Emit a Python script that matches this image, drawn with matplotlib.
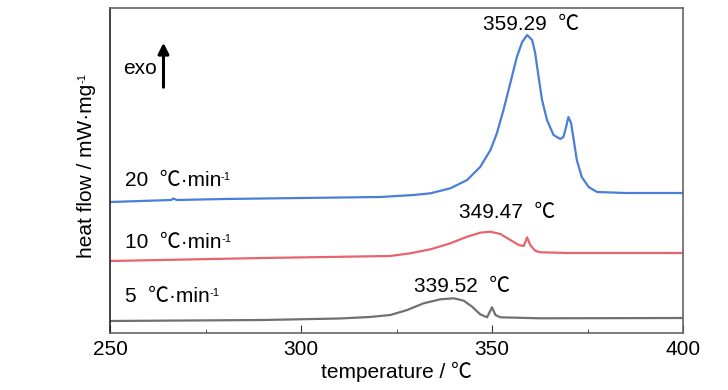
import matplotlib
matplotlib.use("Agg")
import matplotlib.pyplot as plt

plt.rcParams['font.family'] = ['Liberation Sans', 'Noto Sans CJK SC', 'DejaVu Sans']

# DSC curves, temperature (C) vs heat flow (arbitrary units, stacked)
t20 = [250, 266, 266.6, 267.5, 280, 300, 320.8, 329.5, 333.9, 339.1, 343.5, 346.9, 349.6,
       351.3, 353.0, 354.8, 356.5, 357.9, 359.2, 360.5, 361.3, 362.2, 363.1, 364.4, 366.1,
       367.9, 368.7, 369.4, 370.0, 370.7, 371.4, 372.2, 373.5, 375.3, 377.5, 385, 400]
q20 = [131, 133, 134.5, 133, 134, 135, 136, 138, 139.7, 144.7, 153, 166, 183,
       200, 223, 250, 276, 291, 298, 293, 280, 256, 233, 213, 198,
       194, 196, 206, 216, 210, 193, 173, 156, 146, 141, 140, 140]

t10 = [250, 290, 315, 323.4, 328.6, 333.9, 339.1, 343.5, 346.9, 349.6, 352.2, 354.8, 357.0,
       358.3, 359.2, 360.0, 361.3, 362.6, 370, 400]
q10 = [72, 75, 76.5, 77, 79.7, 83.7, 89.7, 96.3, 100.3, 101.3, 99, 93, 88,
       87, 95.7, 88, 82.3, 80.7, 80, 80]

t5 = [250, 290, 310, 318, 323.4, 327.8, 332.1, 336.5, 340.0, 342.6, 344.8, 346.9, 348.7,
      350.0, 350.9, 352.2, 362.6, 400]
q5 = [12, 13, 14.5, 16, 18, 23, 29.7, 33.7, 34.7, 32.3, 26.3, 18.7, 15.7,
      25.7, 18, 15.7, 14.7, 15]

rate_labels = ['20  ℃·min', '10  ℃·min', '5  ℃·min']
rate_y = [152, 90, 36]
peak_labels = ['359.29  ℃', '349.47  ℃', '339.52  ℃']
peak_pos = [(360.3, 309), (353.9, 121), (342.1, 46)]

fig = plt.figure(figsize=(7.28, 3.9), dpi=100)
ax = fig.add_axes([110 / 728, 57 / 390, 573 / 728, 325 / 390])

ax.plot(t20, q20, color='#4a7fd6', lw=1.6)
ax.plot(t10, q10, color='#e8646c', lw=1.6)
ax.plot(t5, q5, color='#707070', lw=1.6)

fs = 15
for lab, yy in zip(rate_labels, rate_y):
    t = ax.text(253.8, yy, lab, fontsize=fs, va='center')
    ax.annotate('-1', xy=(1, 0.95), xycoords=t, fontsize=8, ha='left', va='top')

for lab, (xx, yy) in zip(peak_labels, peak_pos):
    ax.text(xx, yy, lab, fontsize=fs, ha='center', va='center')

ax.text(253.5, 265, 'exo', fontsize=fs, va='center')
ax.annotate('', xy=(264.0, 293), xytext=(264.0, 243),
            arrowprops=dict(arrowstyle='-|>', color='black', lw=2.2, mutation_scale=16))

ax.set_xlim(250, 400)
ax.set_ylim(0, 325)
ax.set_xticks([250, 300, 350, 400])
ax.set_xticks([275, 325, 375], minor=True)
ax.set_yticks([])
ax.tick_params(axis='x', which='major', direction='in', length=6, labelsize=fs, pad=5, color='#333')
ax.tick_params(axis='x', which='minor', direction='in', length=3, color='#333')

for s in ['top', 'right', 'bottom']:
    ax.spines[s].set_color('#666')
ax.spines['left'].set_color('#222')
for s in ax.spines.values():
    s.set_linewidth(1.2)

ax.set_xlabel('temperature / ℃', fontsize=fs, labelpad=2)
ylab = ax.set_ylabel('heat flow / mW·mg', fontsize=fs, labelpad=10)
fig.canvas.draw()
ax.annotate('-1', xy=(0.3, 1.0), xycoords=ylab, fontsize=8, rotation=90,
            ha='center', va='bottom')

fig.savefig('out.png', dpi=100)
